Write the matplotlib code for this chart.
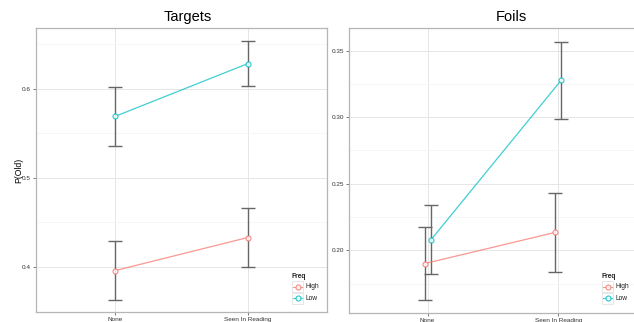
import matplotlib
matplotlib.use("Agg")
import matplotlib.pyplot as plt
from matplotlib.lines import Line2D
import numpy as np

plt.rcParams['font.family'] = ['Liberation Sans', 'DejaVu Sans']

conditions = ["None", "Seen In Reading"]
freq_levels = ["High", "Low"]

targets_high = [0.396, 0.433]
targets_high_lo = [0.363, 0.400]
targets_high_hi = [0.429, 0.466]
targets_low = [0.569, 0.628]
targets_low_lo = [0.536, 0.603]
targets_low_hi = [0.602, 0.653]

foils_high = [0.190, 0.2135]
foils_high_lo = [0.1625, 0.1835]
foils_high_hi = [0.2178, 0.2431]
foils_low = [0.2075, 0.328]
foils_low_lo = [0.182, 0.2985]
foils_low_hi = [0.2338, 0.3565]

colors = {"High": "#F8766D", "Low": "#00BFC4"}
grid_major = "#e6e6e6"
grid_minor = "#f3f3f3"
border = "#b5b5b5"

fig = plt.figure(figsize=(6.34, 3.22), dpi=100)


def panel(rect, title, title_x, series, ylim, yticks, yminor, ytick_fmt, dodge):
    ax = fig.add_axes(rect)
    x = np.arange(len(conditions))
    for i, (name, (mean, lo, hi)) in enumerate(series.items()):
        off = (-dodge if i == 0 else dodge)
        xs = x + off
        mean = np.asarray(mean)
        ax.errorbar(xs, mean, yerr=[mean - np.asarray(lo), np.asarray(hi) - mean],
                    fmt="none", ecolor="#666666", elinewidth=1.0, capsize=4.8,
                    capthick=1.0, zorder=3)
        ax.plot(xs, mean, color=colors[name], lw=0.9, alpha=0.75, zorder=4)
        ax.plot(xs, mean, linestyle="none", marker="o", markersize=3.6,
                markerfacecolor="white", markeredgecolor=colors[name],
                markeredgewidth=0.8, alpha=0.85, zorder=5)
    ax.set_xlim(-0.6, 1.6)
    ax.set_ylim(*ylim)
    ax.set_xticks(x)
    ax.set_xticklabels(conditions)
    ax.set_yticks(yticks)
    ax.set_yticklabels([ytick_fmt.format(v) for v in yticks])
    ax.set_yticks(yminor, minor=True)
    ax.tick_params(axis="y", which="minor", length=0)
    ax.tick_params(axis="both", which="major", labelsize=4.6, length=2.5,
                   width=0.5, color="#444444", labelcolor="#333333", pad=1)
    ax.grid(True, which="major", color=grid_major, lw=0.7, zorder=0)
    ax.grid(True, which="minor", axis="y", color=grid_minor, lw=0.5, zorder=0)
    ax.set_axisbelow(True)
    for s in ax.spines.values():
        s.set_color(border)
        s.set_linewidth(0.9)
    fig.text(title_x, 1 - 17 / 322, title, ha="center", va="center", fontsize=10.5)
    return ax


def legend(x0, y0):
    # legend drawn in figure pixel coordinates (y from top)
    W, H = 634, 322
    fig.text(x0 / W, 1 - y0 / H, "Freq", fontsize=4.8, fontweight="bold",
             ha="left", va="center", color="#222222")
    for k, name in enumerate(freq_levels):
        yc = y0 + 10.7 + k * 11.6
        box = plt.Rectangle((x0 / W, 1 - (yc + 5.6) / H), 11 / W, 11.2 / H,
                            transform=fig.transFigure, facecolor="white",
                            edgecolor="#dddddd", lw=0.5)
        fig.add_artist(box)
        fig.add_artist(Line2D([(x0 + 1) / W, (x0 + 10) / W], [1 - yc / H] * 2,
                              transform=fig.transFigure, color=colors[name],
                              lw=0.8, alpha=0.75))
        fig.add_artist(Line2D([(x0 + 5.5) / W], [1 - yc / H],
                              transform=fig.transFigure, marker="o",
                              markersize=3.6, markerfacecolor="white",
                              markeredgecolor=colors[name], markeredgewidth=0.8,
                              linestyle="none", alpha=0.85))
        fig.text((x0 + 13) / W, 1 - yc / H, name, fontsize=4.8, ha="left",
                 va="center", color="#222222")


ax1 = panel([36 / 634, 1 - 312 / 322, 291 / 634, 284 / 322], "Targets", 188 / 634,
            {"High": (targets_high, targets_high_lo, targets_high_hi),
             "Low": (targets_low, targets_low_lo, targets_low_hi)},
            (0.3495, 0.668), [0.4, 0.5, 0.6], [0.35, 0.45, 0.55, 0.65], "{:.1f}", 0.0)
ax1.set_ylabel("P(Old)", fontsize=6.2, labelpad=-0.5)

ax2 = panel([349 / 634, 1 - 313 / 322, 288 / 634, 285 / 322], "Foils", 511 / 634,
            {"High": (foils_high, foils_high_lo, foils_high_hi),
             "Low": (foils_low, foils_low_lo, foils_low_hi)},
            (0.1529, 0.367), [0.20, 0.25, 0.30, 0.35], [0.175, 0.225, 0.275, 0.325],
            "{:.2f}", 0.023)

legend(292, 276)
legend(602, 276)

fig.savefig("out.png", dpi=100)
